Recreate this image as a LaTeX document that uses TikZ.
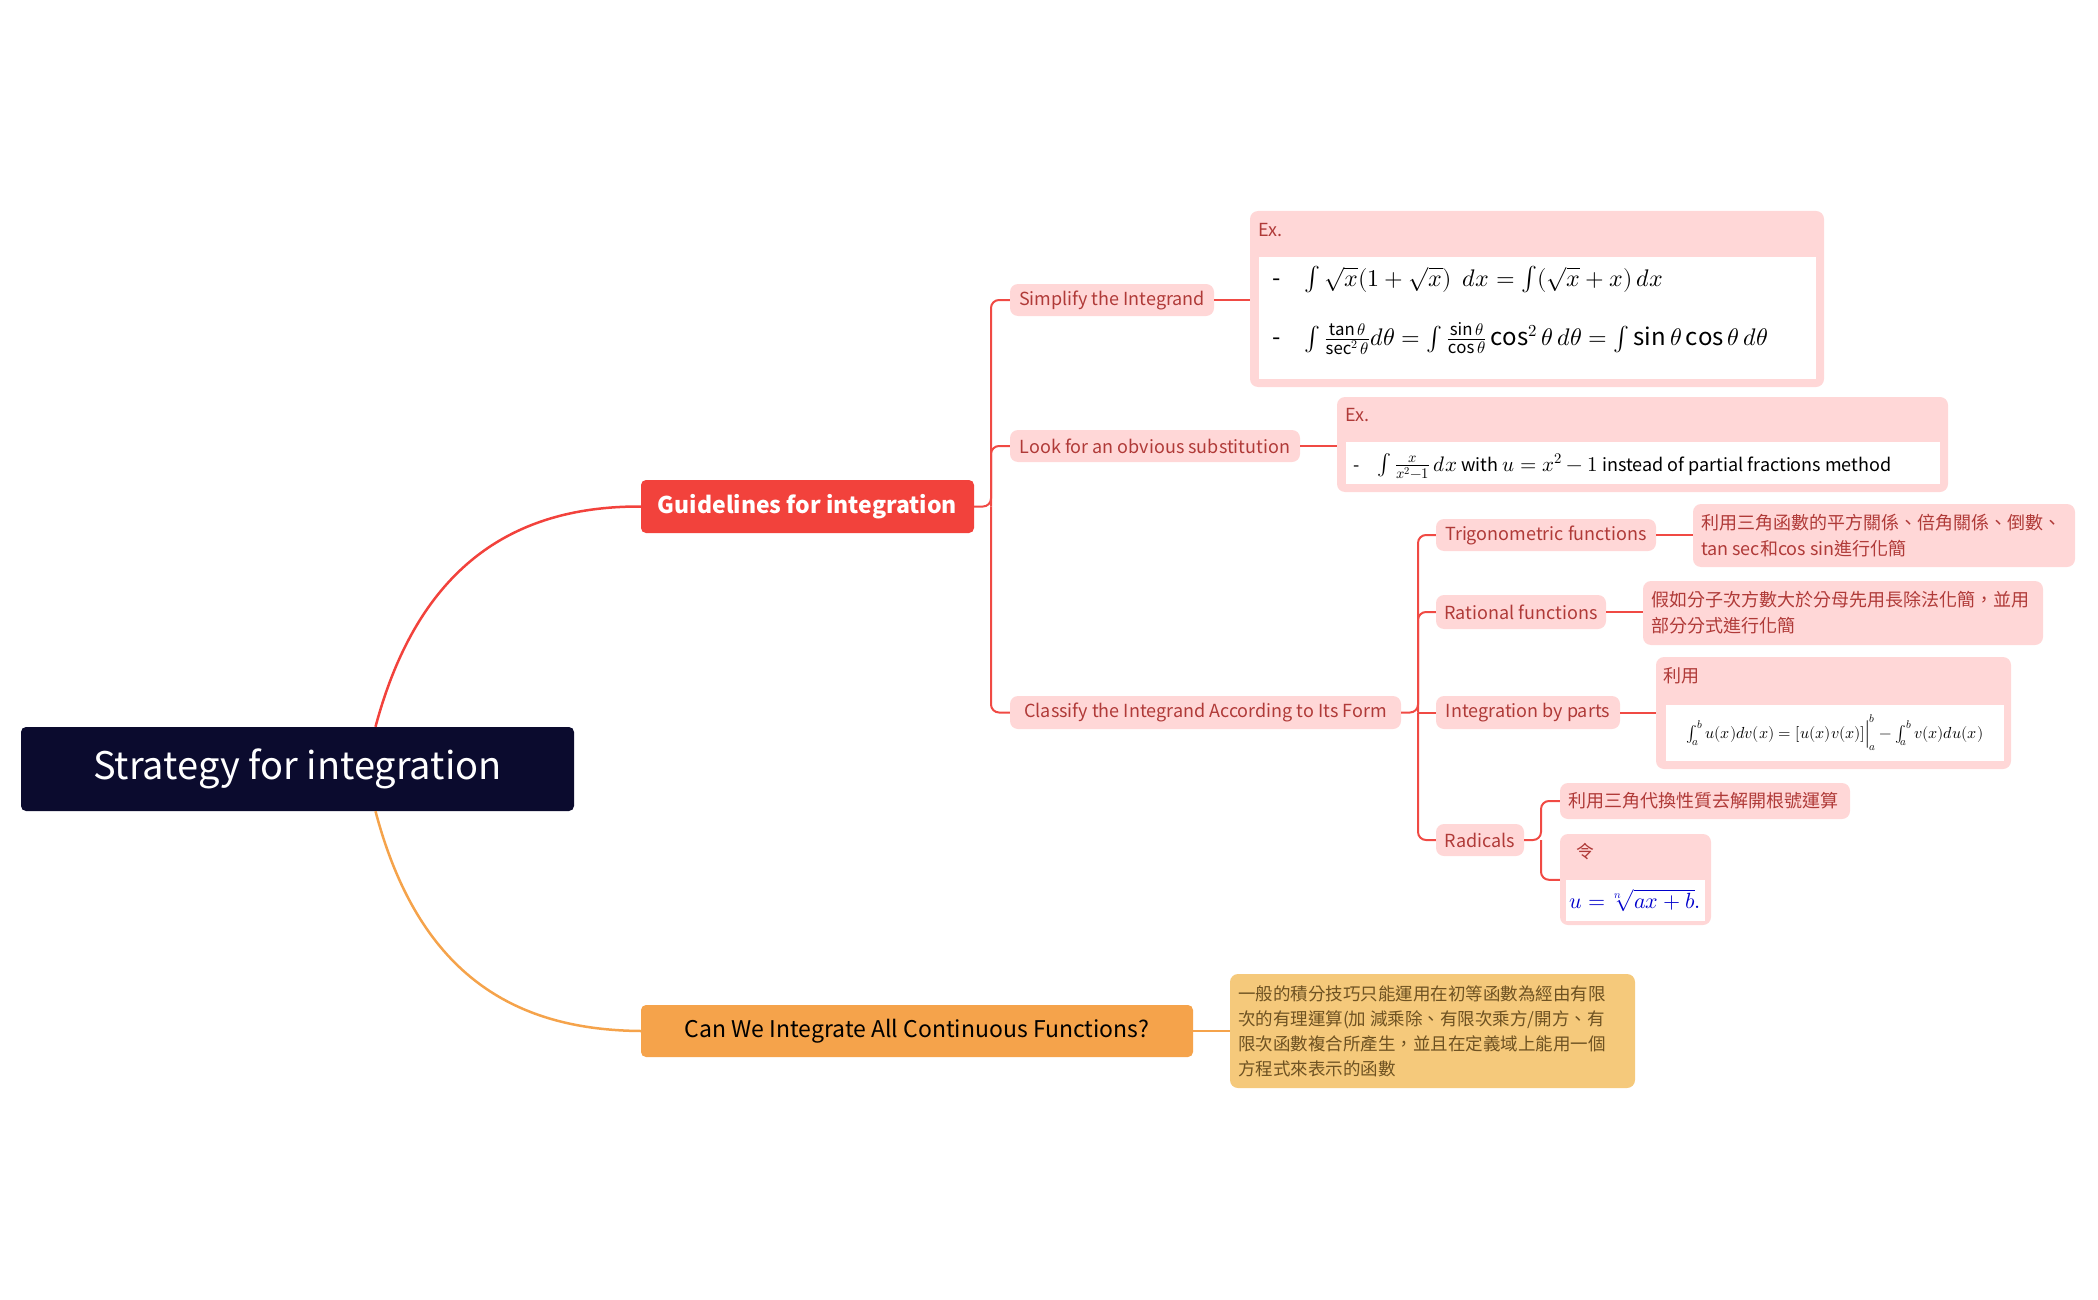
\documentclass[tikz,border=0pt]{standalone}
\usepackage{amsmath}
\usepackage{fontspec}
\usepackage{unicode-math}
\setmainfont{Noto Sans CJK TC}
\setmathfont{Latin Modern Math}
\usepackage{tikz}
\usetikzlibrary{positioning, calc}

\definecolor{rootc}{HTML}{0B0B2E}
\definecolor{guidec}{HTML}{F2423C}
\definecolor{canc}{HTML}{F5A34B}
\definecolor{notec}{HTML}{F5C97B}
\definecolor{pinkc}{HTML}{FFD7D7}
\definecolor{pinkt}{HTML}{B03A38}
\definecolor{brownt}{HTML}{6E5222}
\definecolor{redline}{HTML}{F04A44}

\begin{document}
\begin{tikzpicture}[x=1pt, y=-1pt,
    topic/.style={rectangle, rounded corners=5pt, inner sep=0pt, font=\fontsize{24}{28}\selectfont},
    sub/.style={rectangle, rounded corners=8pt, fill=pinkc, text=pinkt, inner sep=0pt, font=\fontsize{18}{22}\selectfont},
    note/.style={rectangle, rounded corners=8pt, fill=pinkc, inner sep=0pt},
    ntext/.style={text=pinkt, align=left, inner sep=0pt, font=\fontsize{18}{26}\selectfont},
    mathbox/.style={fill=white, inner sep=0pt, font=\fontsize{21}{26}\selectfont},
    link/.style={draw=redline, line width=2pt, rounded corners=8pt},
    olink/.style={draw=canc, line width=2pt}
]
\useasboundingbox (0,0) rectangle (2098,1300);

% main topics
\node[topic, fill=rootc, text=white, minimum width=553, minimum height=84,
      font=\fontsize{38}{44}\selectfont] (root) at (297.5,769) {Strategy for integration};
\node[topic, fill=guidec, text=white, minimum width=333, minimum height=53,
      font=\bfseries\fontsize{23}{28}\selectfont] (guide) at (807.5,506.5) {Guidelines for integration};
\node[topic, fill=canc, text=black, minimum width=552, minimum height=52,
      font=\fontsize{23}{28}\selectfont] (canwe) at (917,1031) {Can We Integrate All Continuous Functions?};

\draw[draw=guidec, line width=2.5pt] ($(root.north)+(78,0)$) .. controls (420,560) and (520,506) .. (guide.west);
\draw[draw=canc, line width=2.5pt] ($(root.south)+(78,0)$) .. controls (420,980) and (520,1030) .. (canwe.west);

% guidelines
\node[sub, minimum width=204, minimum height=32] (simp) at (1112,300) {Simplify the Integrand};
\node[sub, minimum width=290, minimum height=32] (look) at (1155,446) {Look for an obvious substitution};
\node[sub, minimum width=391, minimum height=33] (classify) at (1205.5,712.5) {Classify the Integrand According to Its Form};

\coordinate (gsp) at (991,506.5);
\draw[link] (guide.east) -- (gsp) |- (simp.west);
\draw[link] (gsp) |- (look.west);
\draw[link] (gsp) |- (classify.west);

% examples
\node[note, minimum width=574, minimum height=176] (ex1) at (1537,299) {};
\node[ntext, anchor=west] (ex1t) at (1258,230) {Ex.};
\node[mathbox, minimum width=557, minimum height=122] (ex1m) at (1537.5,318) {};
\node[anchor=west, align=left, inner sep=0pt, font=\fontsize{24}{28}\selectfont] (ex1a) at (1272,280)
  {-\quad $\int\sqrt{x}(1+\sqrt{x})\;\,dx=\int(\sqrt{x}+x)\,dx$};
\node[anchor=west, align=left, inner sep=0pt, font=\fontsize{24}{28}\selectfont] (ex1b) at (1272,339)
  {-\quad $\int\frac{\tan\theta}{\sec^2\theta}d\theta=\int\frac{\sin\theta}{\cos\theta}\cos^2\theta\,d\theta=\int\sin\theta\cos\theta\,d\theta$};
\draw[link] (simp.east) -- (ex1.west |- simp.east);

\node[note, minimum width=611, minimum height=95] (ex2) at (1642.5,444.5) {};
\node[ntext, anchor=west] (ex2t) at (1345,415) {Ex.};
\node[mathbox, minimum width=594, minimum height=42] (ex2m) at (1643,463) {};
\node[anchor=west, inner sep=0pt, font=\fontsize{18}{22}\selectfont] (ex2a) at (1353,466)
  {-\quad {\fontsize{21}{22}\selectfont$\int\frac{x}{x^2-1}\,dx$} with {\fontsize{21}{22}\selectfont$u=x^2-1$} instead of partial fractions method};
\draw[link] (look.east) -- (ex2.west |- look.east);

% forms
\node[sub, minimum width=220, minimum height=32] (trig) at (1546,535) {Trigonometric functions};
\node[sub, minimum width=170, minimum height=34] (rat) at (1521,612) {Rational functions};
\node[sub, minimum width=184, minimum height=33] (parts) at (1528,712.5) {Integration by parts};
\node[sub, minimum width=88, minimum height=32] (rad) at (1480,840) {Radicals};

\coordinate (csp) at (1418,712.5);
\draw[link] (classify.east) -- (csp) |- (trig.west);
\draw[link] (csp) |- (rat.west);
\draw[link] (csp) -- (parts.west);
\draw[link] (csp) |- (rad.west);

\node[note, minimum width=382, minimum height=63] (trign) at (1884,535.5) {};
\node[ntext, anchor=west] at (trign.west) [xshift=8pt] {利用三角函數的平方關係、倍角關係、倒數、\\tan sec和cos sin進行化簡};
\draw[link] (trig.east) -- (trign.west |- trig.east);

\node[note, minimum width=400, minimum height=64] (ratn) at (1843,613) {};
\node[ntext, anchor=west] at (ratn.west) [xshift=8pt] {假如分子次方數大於分母先用長除法化簡，並用\\部分分式進行化簡};
\draw[link] (rat.east) -- (ratn.west |- rat.east);

\node[note, minimum width=355, minimum height=112] (partsn) at (1833.5,713) {};
\node[ntext, anchor=west] at (1663,676) {利用};
\node[mathbox, minimum width=338, minimum height=56] (partsm) at (1835,733) {};
\node[inner sep=0pt, font=\fontsize{16}{20}\selectfont] at (partsm)
  {$\int_a^b u(x)dv(x)=[u(x)v(x)]\Big|_a^b-\int_a^b v(x)du(x)$};
\draw[link] (parts.east) -- (partsn.west |- parts.east);

\node[note, minimum width=290, minimum height=36] (radn1) at (1705,801) {};
\node[ntext, anchor=west] at (radn1.west) [xshift=8pt] {利用三角代換性質去解開根號運算};
\node[note, minimum width=151, minimum height=91] (radn2) at (1635.5,879.5) {};
\node[ntext, anchor=west] at (1576,852) {令};
\node[mathbox, minimum width=139, minimum height=41, text=blue!80!black, font=\fontsize{22}{26}\selectfont] (radm) at (1635.5,900.5)
  {$u=\sqrt[n]{ax+b}.$};
\coordinate (rsp) at (1541,840);
\draw[link] (rad.east) -- (rsp) |- (radn1.west);
\draw[link] (rsp) |- (radn2.west |- radm.north);

% can we
\node[rectangle, rounded corners=8pt, fill=notec, minimum width=405, minimum height=114] (cann) at (1432.5,1031) {};
\node[ntext, text=brownt, anchor=west, font=\fontsize{17.5}{25}\selectfont] at (cann.west) [xshift=8pt]
  {一般的積分技巧只能運用在初等函數為經由有限\\次的有理運算(加 減乘除、有限次乘方/開方、有\\限次函數複合所產生，並且在定義域上能用一個\\方程式來表示的函數};
\draw[olink] (canwe.east) -- (cann.west);

\end{tikzpicture}
\end{document}
